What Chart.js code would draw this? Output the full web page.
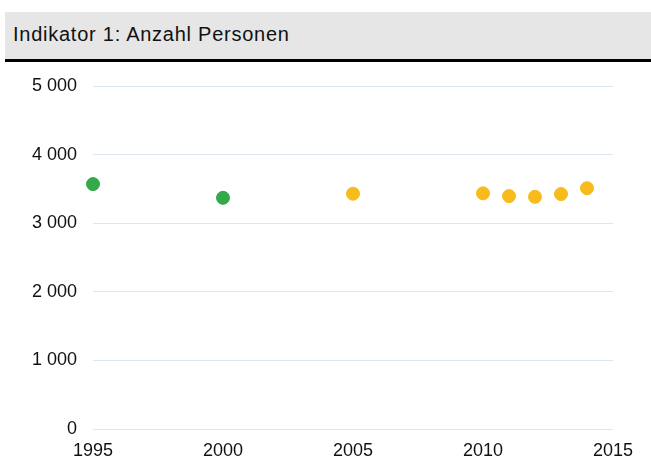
<!DOCTYPE html>
<html>
<head>
<meta charset="utf-8">
<script src="https://cdn.jsdelivr.net/npm/chart.js@4/dist/chart.umd.min.js"></script>
<style>
  html, body { margin: 0; padding: 0; background: #fff; }
  #wrap { position: relative; width: 651px; height: 459px; overflow: hidden; }
  #title {
    position: absolute; left: 5px; top: 12px; width: 646px; height: 50px;
    background: #e6e6e6; border-bottom: 3px solid #000;
    font-family: "Liberation Sans", Arial, sans-serif; font-size: 20px; letter-spacing: 0.75px; color: #111;
    line-height: 44px; padding-left: 8px; box-sizing: border-box;
  }
  canvas { position: absolute; left: 0; top: 0; }
</style>
</head>
<body>
<div id="wrap">
  <canvas id="c" width="651" height="459"></canvas>
  <div id="title"></div>
</div>
<script>
const titleText = "Indikator 1: Anzahl Personen";
const yearsA = [1995, 2000];
const valuesA = [3570, 3370];
const yearsB = [2005, 2010, 2011, 2012, 2013, 2014];
const valuesB = [3430, 3435, 3395, 3385, 3425, 3510];
const xTicks = [1995, 2000, 2005, 2010, 2015];
const yTicks = [0, 1000, 2000, 3000, 4000, 5000];

document.getElementById('title').textContent = titleText;

function fmt(v) {
  return String(v).replace(/\B(?=(\d{3})+(?!\d))/g, " ");
}

const font = { family: "'Liberation Sans', Arial, sans-serif", size: 18 };

new Chart(document.getElementById('c'), {
  type: 'scatter',
  data: {
    datasets: [
      {
        label: 'A',
        data: yearsA.map((x, i) => ({ x: x, y: valuesA[i] })),
        backgroundColor: '#34a94a',
        borderColor: '#34a94a',
        pointRadius: 6.5,
        pointHoverRadius: 6.5,
        clip: false
      },
      {
        label: 'B',
        data: yearsB.map((x, i) => ({ x: x, y: valuesB[i] })),
        backgroundColor: '#f8bb1c',
        borderColor: '#f8bb1c',
        pointRadius: 6.5,
        pointHoverRadius: 6.5,
        clip: false
      }
    ]
  },
  options: {
    responsive: false,
    animation: false,
    layout: { padding: { left: 0, right: 38, top: 86, bottom: 0 } },
    plugins: { legend: { display: false }, tooltip: { enabled: false } },
    scales: {
      x: {
        type: 'linear',
        min: xTicks[0],
        max: xTicks[xTicks.length - 1],
        afterBuildTicks: (s) => { s.ticks = xTicks.map(v => ({ value: v })); },
        afterFit: (s) => { s.height = 30; },
        grid: { display: false, drawTicks: false },
        border: { display: false },
        ticks: { font: font, color: '#111', padding: 11, maxRotation: 0, callback: (v) => String(v) }
      },
      y: {
        min: yTicks[0],
        max: yTicks[yTicks.length - 1],
        afterBuildTicks: (s) => { s.ticks = yTicks.map(v => ({ value: v })); },
        afterFit: (s) => { s.width = 93; },
        grid: { color: '#dde6f1', lineWidth: 1, drawTicks: false },
        border: { display: false },
        ticks: { font: font, color: '#111', padding: 16, callback: (v) => fmt(v) }
      }
    }
  }
});
</script>
</body>
</html>
